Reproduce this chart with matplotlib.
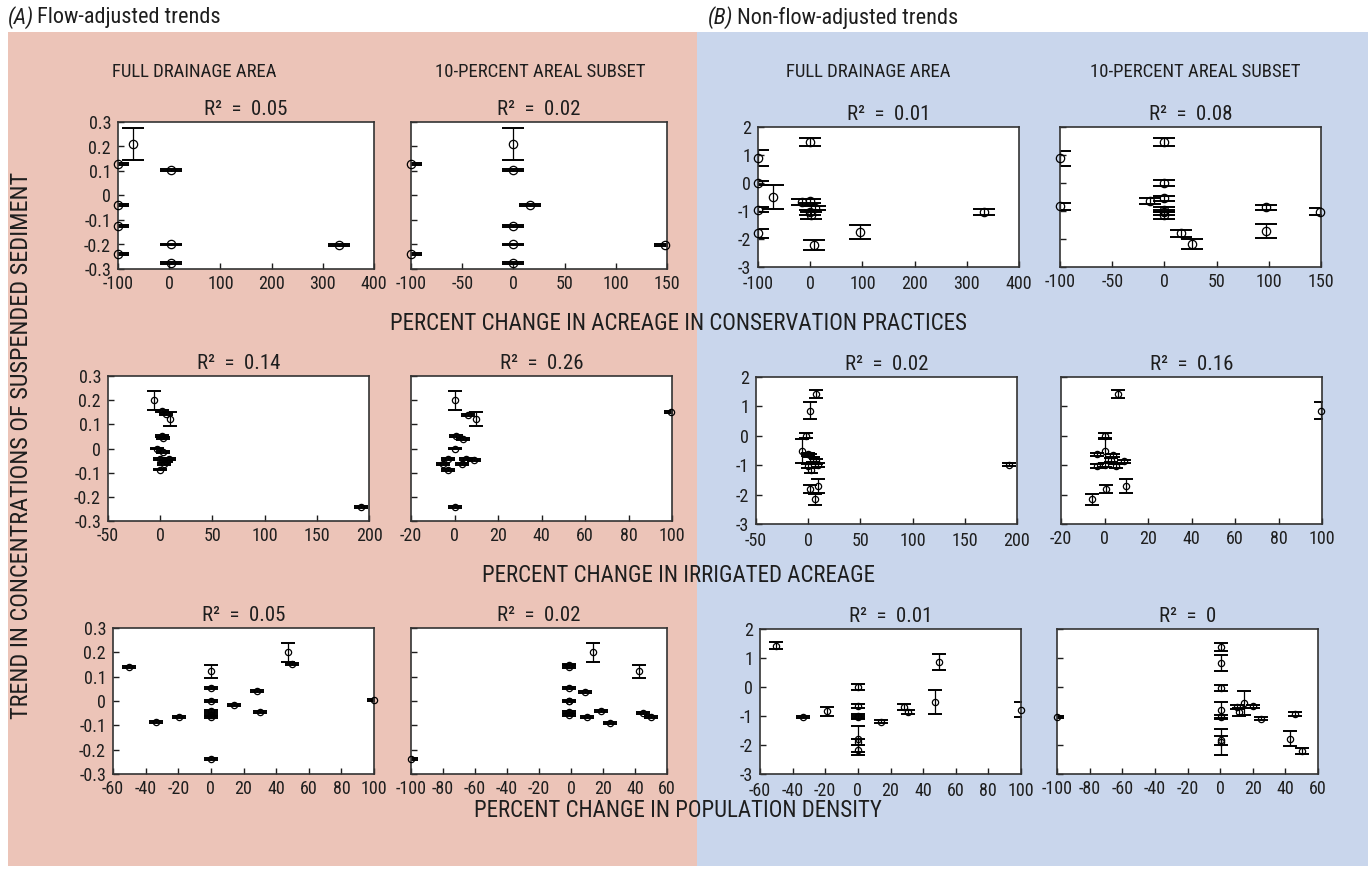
import numpy as np
import matplotlib.pyplot as plt
from matplotlib.patches import Rectangle

FONT = ['Roboto Condensed', 'Roboto', 'DejaVu Sans']
plt.rcParams['font.family'] = FONT

# ---- data: (x, trend, error) for each panel ----
# Row 1: percent change in acreage in conservation practices
a_cons_full_x = [-70, -100, 3, -100, -100, 3, 332, -100, 3]
a_cons_full_y = [0.21, 0.13, 0.105, -0.039, -0.125, -0.20, -0.202, -0.24, -0.274]
a_cons_full_e = [0.066, 0.004, 0.004, 0.004, 0.004, 0.004, 0.004, 0.004, 0.004]

a_cons_sub_x = [0, -100, 0, 16, 0, 0, 148, -100, 0]
a_cons_sub_y = [0.21, 0.13, 0.105, -0.04, -0.125, -0.20, -0.202, -0.24, -0.274]
a_cons_sub_e = [0.066, 0.004, 0.004, 0.004, 0.004, 0.004, 0.004, 0.004, 0.004]

b_cons_full_x = [0, -100, -100, -71, -100, -100, -15, 0, 0, 10, 2, 8, 95, 333]
b_cons_full_y = [1.45, 0.88, 0.0, -0.5, -0.95, -1.8, -0.67, -0.65, -1.05, -0.9, -1.15, -2.2, -1.75, -1.03]
b_cons_full_e = [0.14, 0.29, 0.08, 0.42, 0.1, 0.15, 0.1, 0.08, 0.08, 0.08, 0.13, 0.18, 0.24, 0.11]

b_cons_sub_x = [0, -100, 0, 0, -14, -100, 0, 0, 0, 97, 149, 16, 26, 97]
b_cons_sub_y = [1.45, 0.88, -0.01, -0.55, -0.65, -0.83, -0.95, -1.05, -1.15, -0.87, -1.03, -1.8, -2.17, -1.72]
b_cons_sub_e = [0.14, 0.27, 0.1, 0.1, 0.1, 0.13, 0.08, 0.08, 0.12, 0.1, 0.12, 0.13, 0.18, 0.25]

# Row 2: percent change in irrigated acreage
a_irr_full_x = [-6, 2, 6, 9, 2, 3, -3, 3, 0, 8, 6, 4, 0, 192]
a_irr_full_y = [0.2, 0.155, 0.142, 0.122, 0.053, 0.045, 0.0, -0.015, -0.043, -0.043, -0.052, -0.066, -0.087, -0.242]
a_irr_full_e = [0.039, 0.004, 0.004, 0.028, 0.004, 0.004, 0.004, 0.004, 0.004, 0.004, 0.004, 0.004, 0.004, 0.004]

a_irr_sub_x = [0, 6, 10, 0.6, 4, 0, -3, 5.5, 9, -5.5, 3.4, -3, 0, 99.7]
a_irr_sub_y = [0.199, 0.138, 0.122, 0.052, 0.04, 0.0, -0.042, -0.042, -0.047, -0.066, -0.066, -0.088, -0.241, 0.152]
a_irr_sub_e = [0.039, 0.004, 0.028, 0.004, 0.004, 0.004, 0.004, 0.004, 0.004, 0.004, 0.004, 0.004, 0.004, 0.004]

b_irr_full_x = [7, 2, -2.5, -6, -0.6, 2, 4.5, 7.7, 0, 3, 9, 2, 9, 6.4, 192]
b_irr_full_y = [1.42, 0.86, 0.0, -0.51, -0.63, -0.67, -0.8, -0.87, -1.03, -1.18, -0.99, -1.81, -1.72, -2.16, -0.99]
b_irr_full_e = [0.14, 0.28, 0.09, 0.4, 0.06, 0.06, 0.08, 0.08, 0.08, 0.1, 0.08, 0.15, 0.24, 0.18, 0.05]

b_irr_sub_x = [6.3, 99.7, 0, 0, -3.5, 4, 3, 9, -3.5, 0, 5.4, 0.5, 10, -5.8]
b_irr_sub_y = [1.42, 0.86, 0.0, -0.51, -0.63, -0.67, -0.82, -0.87, -1.03, -0.99, -1.03, -1.81, -1.72, -2.16]
b_irr_sub_e = [0.14, 0.28, 0.09, 0.4, 0.06, 0.06, 0.08, 0.06, 0.06, 0.06, 0.06, 0.15, 0.24, 0.18]

# Row 3: percent change in population density
a_pop_full_x = [-50, -33.5, -19.6, 0, 0, 0, 0, 0, 0, 14, 28, 30.4, 47, 49.7, 100, 0]
a_pop_full_y = [0.138, -0.086, -0.066, 0.122, 0.052, 0.0, -0.043, -0.056, -0.067, -0.015, 0.04, -0.047, 0.2, 0.152, 0.004, -0.24]
a_pop_full_e = [0.004, 0.004, 0.004, 0.028, 0.004, 0.004, 0.004, 0.004, 0.004, 0.004, 0.004, 0.004, 0.039, 0.004, 0.004, 0.004]

a_pop_sub_x = [-1, -1, 13.7, 42.4, -1, 9, -1, -1, -1, -1, 10, 19, 24.4, 45, 49.8, -100]
a_pop_sub_y = [0.15, 0.14, 0.2, 0.122, 0.052, 0.038, 0.002, -0.002, -0.045, -0.056, -0.067, -0.043, -0.089, -0.048, -0.067, -0.24]
a_pop_sub_e = [0.004, 0.004, 0.039, 0.028, 0.004, 0.004, 0.004, 0.004, 0.004, 0.004, 0.004, 0.004, 0.004, 0.004, 0.004, 0.004]

b_pop_full_x = [-50, -33.4, -19, 0, 0, 0, 0, 0, 0, 0, 14.3, 28.2, 30.7, 50, 47.5, 100]
b_pop_full_y = [1.43, -1.04, -0.84, 0.0, -0.65, -1.0, -1.05, -1.8, -1.9, -2.17, -1.19, -0.69, -0.86, 0.86, -0.52, -0.78]
b_pop_full_e = [0.13, 0.04, 0.16, 0.1, 0.07, 0.06, 0.06, 0.45, 0.1, 0.18, 0.06, 0.1, 0.08, 0.28, 0.4, 0.27]

b_pop_sub_x = [-100, 0.4, 0.4, 0.4, 0.4, 0.4, 0.4, 0.4, 10.4, 11.4, 14.7, 20, 25, 45.6, 43, 50]
b_pop_sub_y = [-1.03, 1.38, 0.82, -0.03, -0.8, -1.04, -1.84, -1.9, -0.69, -0.87, -0.55, -0.67, -1.09, -0.93, -1.78, -2.2]
b_pop_sub_e = [0.04, 0.15, 0.28, 0.1, 0.27, 0.08, 0.15, 0.45, 0.08, 0.14, 0.41, 0.06, 0.05, 0.06, 0.25, 0.1]

r2_values = [["0.05", "0.02", "0.01", "0.08"],
             ["0.14", "0.26", "0.02", "0.16"],
             ["0.05", "0.02", "0.01", "0"]]

row_labels = ["PERCENT CHANGE IN ACREAGE IN CONSERVATION PRACTICES",
              "PERCENT CHANGE IN IRRIGATED ACREAGE",
              "PERCENT CHANGE IN POPULATION DENSITY"]

panels = [
    [(a_cons_full_x, a_cons_full_y, a_cons_full_e), (a_cons_sub_x, a_cons_sub_y, a_cons_sub_e),
     (b_cons_full_x, b_cons_full_y, b_cons_full_e), (b_cons_sub_x, b_cons_sub_y, b_cons_sub_e)],
    [(a_irr_full_x, a_irr_full_y, a_irr_full_e), (a_irr_sub_x, a_irr_sub_y, a_irr_sub_e),
     (b_irr_full_x, b_irr_full_y, b_irr_full_e), (b_irr_sub_x, b_irr_sub_y, b_irr_sub_e)],
    [(a_pop_full_x, a_pop_full_y, a_pop_full_e), (a_pop_sub_x, a_pop_sub_y, a_pop_sub_e),
     (b_pop_full_x, b_pop_full_y, b_pop_full_e), (b_pop_sub_x, b_pop_sub_y, b_pop_sub_e)],
]

# x-axis ticks per row and column (full / subset)
xticks = [
    [np.arange(-100, 401, 100), np.arange(-100, 151, 50)],
    [np.arange(-50, 201, 50), np.arange(-20, 101, 20)],
    [np.arange(-60, 101, 20), np.arange(-100, 61, 20)],
]

# ---- layout (pixels) ----
W, H = 1371, 871
boxes = [
    [(118, 122, 374, 269), (411, 122, 667, 269), (758, 127, 1019, 267), (1060, 127, 1321, 267)],
    [(108, 376, 369, 521), (411, 376, 672, 521), (756, 377, 1017, 524), (1061, 377, 1322, 524)],
    [(113, 628, 374, 774), (411, 628, 667, 774), (760, 629, 1021, 774), (1057, 629, 1318, 774)],
]

fig = plt.figure(figsize=(W / 100, H / 100), dpi=100)
fig.patch.set_facecolor('white')

# coloured backgrounds for the two halves
fig.patches.append(Rectangle((8 / W, 1 - 866 / H), (697 - 8) / W, (866 - 32) / H,
                             transform=fig.transFigure, facecolor='#ecc4b8', edgecolor='none', zorder=-10))
fig.patches.append(Rectangle((697 / W, 1 - 866 / H), (1368 - 697) / W, (866 - 32) / H,
                             transform=fig.transFigure, facecolor='#c9d6ec', edgecolor='none', zorder=-10))

TXT = '#1e1e1e'


def px_text(x, y, s, **kw):
    fig.text(x / W, 1 - y / H, s, **kw)


px_text(8, 18, "(A)", fontsize=16, style='italic', va='center', color=TXT)
px_text(37, 18, "Flow-adjusted trends", fontsize=16, va='center', color=TXT)
px_text(708, 18, "(B)", fontsize=16, style='italic', va='center', color=TXT)
px_text(737, 18, "Non-flow-adjusted trends", fontsize=16, va='center', color=TXT)

for cx, s in [(194, "FULL DRAINAGE AREA"), (540, "10-PERCENT AREAL SUBSET"),
              (868, "FULL DRAINAGE AREA"), (1195, "10-PERCENT AREAL SUBSET")]:
    px_text(cx, 72, s, fontsize=13.5, ha='center', va='center', color=TXT)

for y, s in zip([323, 575, 810], row_labels):
    px_text(678, y, s, fontsize=16.5, ha='center', va='center', color=TXT)

px_text(22, 445, "TREND IN CONCENTRATIONS OF SUSPENDED SEDIMENT", fontsize=17.5,
        rotation=90, ha='center', va='center', color=TXT)

for r in range(3):
    cap = 8 if r == 0 else 5
    ms = 6 if r == 0 else 4.5
    for c in range(4):
        l, t, rr, b = boxes[r][c]
        ax = fig.add_axes([l / W, 1 - b / H, (rr - l) / W, (b - t) / H])
        x, y, e = panels[r][c]
        ax.errorbar(x, y, yerr=e, fmt='none', ecolor='black', elinewidth=0.9,
                    capsize=cap, capthick=1.4)
        ax.plot(x, y, 'o', mfc='none', mec='black', ms=ms, mew=0.9, clip_on=False, zorder=5)

        ticks = xticks[r][c % 2]
        ax.set_xlim(ticks[0], ticks[-1])
        ax.set_xticks(ticks)
        ax.set_xticklabels([str(v) for v in ticks])
        if c < 2:
            yt = np.round(np.arange(-0.3, 0.31, 0.1), 1)
            ax.set_ylim(-0.3, 0.3)
            ax.set_yticks(yt)
            ylabels = ["0" if abs(v) < 1e-9 else f"{v:g}" for v in yt]
        else:
            yt = np.arange(-3, 3, 1)
            ax.set_ylim(-3, 2)
            ax.set_yticks(yt)
            ylabels = [str(v) for v in yt]
        if c % 2 == 0:
            ax.set_yticklabels(ylabels)
        else:
            ax.set_yticklabels([])
        ax.tick_params(direction='in', length=4, width=1, labelsize=13, colors=TXT)
        ax.tick_params(axis='x', pad=6 if c == 2 else 4)
        ax.tick_params(axis='y', pad=5)
        for sp in ax.spines.values():
            sp.set_linewidth(1.2)
            sp.set_color('#333333')
        ax.set_title("R\u00b2  =  " + r2_values[r][c], fontsize=15, pad=5, color=TXT)

plt.savefig("out.png", dpi=100, facecolor=fig.get_facecolor())
